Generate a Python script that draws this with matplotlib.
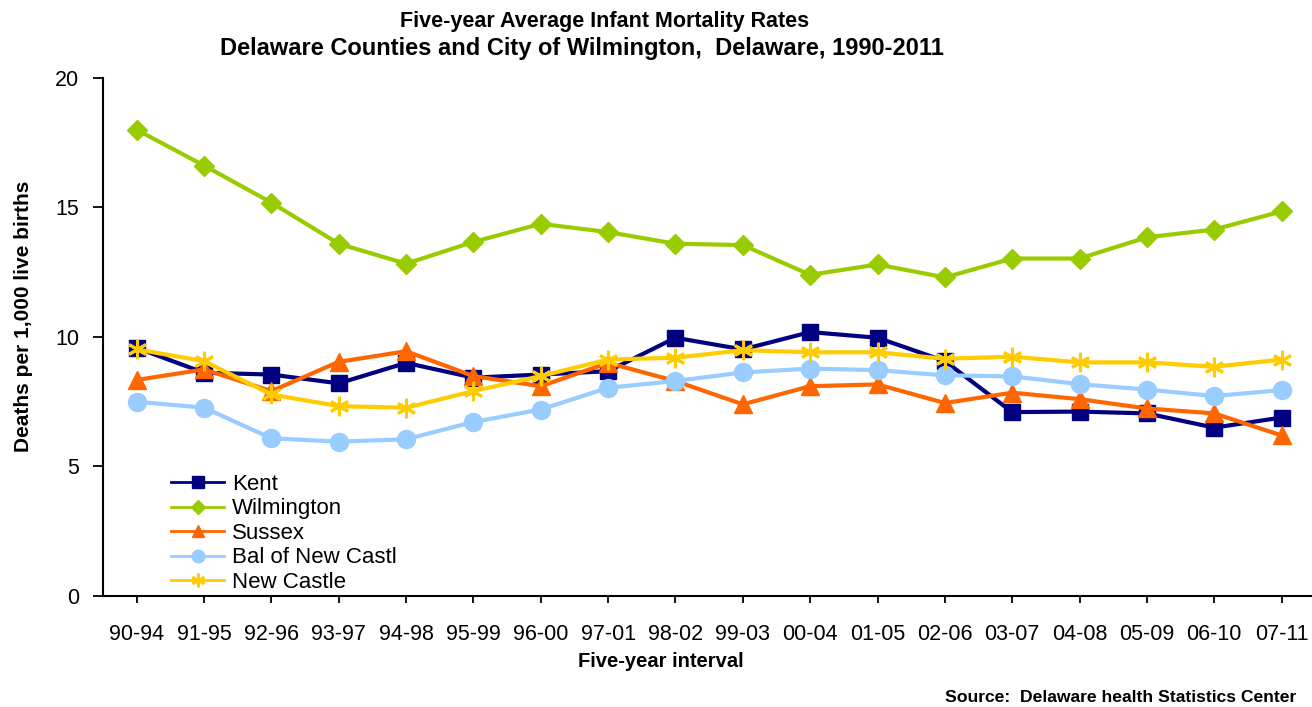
import matplotlib
matplotlib.use("Agg")
import matplotlib.pyplot as plt
from matplotlib.lines import Line2D

intervals = ["90-94", "91-95", "92-96", "93-97", "94-98", "95-99", "96-00", "97-01", "98-02",
             "99-03", "00-04", "01-05", "02-06", "03-07", "04-08", "05-09", "06-10", "07-11"]

kent = [9.58, 8.62, 8.55, 8.21, 9.0, 8.43, 8.55, 8.68, 9.97, 9.52, 10.19, 9.97, 9.07, 7.1, 7.12, 7.05, 6.5, 6.89]
wilmington = [18.0, 16.62, 15.19, 13.6, 12.83, 13.67, 14.37, 14.05, 13.6, 13.55, 12.4, 12.8, 12.3, 13.03, 13.03, 13.85, 14.15, 14.85]
sussex = [8.34, 8.75, 7.91, 9.04, 9.45, 8.49, 8.1, 9.0, 8.3, 7.4, 8.1, 8.17, 7.45, 7.85, 7.6, 7.24, 7.05, 6.2]
bal_new_castle = [7.5, 7.27, 6.09, 5.96, 6.05, 6.72, 7.2, 8.04, 8.3, 8.63, 8.78, 8.72, 8.52, 8.48, 8.18, 7.97, 7.72, 7.95]
new_castle = [9.52, 9.07, 7.78, 7.33, 7.27, 7.91, 8.49, 9.13, 9.2, 9.49, 9.41, 9.41, 9.16, 9.24, 9.02, 9.02, 8.85, 9.13]

series_names = ["Kent", "Wilmington", "Sussex", "Bal of New Castl", "New Castle"]
series_values = [kent, wilmington, sussex, bal_new_castle, new_castle]
colors = ["#000080", "#99CC00", "#FF6600", "#99CCFF", "#FFCC00"]
markers = ["s", "D", "^", "o", (6, 2, 0)]
msizes = [12, 10.5, 12.5, 13, 14]

plt.rcParams['font.family'] = ['Liberation Sans', 'DejaVu Sans']

fig = plt.figure(figsize=(13.12, 7.07), dpi=100)
ax = fig.add_axes([0.0785, 0.157, 0.924, 0.7327])

x = list(range(len(intervals)))
for name, vals, c, m, ms in zip(series_names, series_values, colors, markers, msizes):
    mew = 2.2 if m == (6, 2, 0) else 1
    ax.plot(x, vals, color=c, lw=3, marker=m, markersize=ms, markerfacecolor=c,
            markeredgecolor=c, markeredgewidth=mew, clip_on=False)

ax.set_xlim(-0.5, len(intervals) - 0.5)
ax.set_ylim(0, 20)
ax.set_yticks([0, 5, 10, 15, 20])
ax.set_xticks(x)
ax.set_xticklabels(intervals)
ax.tick_params(axis='both', labelsize=15.5, direction='out', width=1.3, colors='black')
ax.tick_params(axis='x', length=5, pad=15)
ax.tick_params(axis='y', length=7, pad=10)
for s in ['top', 'right']:
    ax.spines[s].set_visible(False)
for s in ['left', 'bottom']:
    ax.spines[s].set_linewidth(1.5)

ax.set_ylabel("Deaths per 1,000 live births", fontsize=15, fontweight='bold')
ax.yaxis.set_label_coords(-0.058, 0.539)
ax.set_xlabel("Five-year interval", fontsize=14.5, fontweight='bold', labelpad=2)
ax.xaxis.set_label_coords(0.46, -0.108)

fig.text(605 / 1312, 1 - 22 / 707, "Five-year Average Infant Mortality Rates", ha='center', va='center',
         fontsize=15.5, fontweight='bold')
fig.text(582 / 1312, 1 - 48 / 707, "Delaware Counties and City of Wilmington,  Delaware, 1990-2011", ha='center',
         va='center', fontsize=17, fontweight='bold')
fig.text(0.988, 1 - 697 / 707, "Source:  Delaware health Statistics Center", ha='right', va='center',
         fontsize=12.6, fontweight='bold')

handles = [Line2D([0], [0], color=c, lw=2, marker=m, markersize=ms * 0.7,
                  markerfacecolor=c, markeredgecolor=c,
                  markeredgewidth=(1.8 if m == (6, 2, 0) else 1))
           for c, m, ms in zip(colors, markers, msizes)]
leg = ax.legend(handles, series_names, loc='upper left', bbox_to_anchor=(0.056, 0.236),
                frameon=False, fontsize=16, handlelength=2.4, handletextpad=0.35,
                labelspacing=0.16, borderaxespad=0, borderpad=0)

fig.savefig("out.png", dpi=100)
